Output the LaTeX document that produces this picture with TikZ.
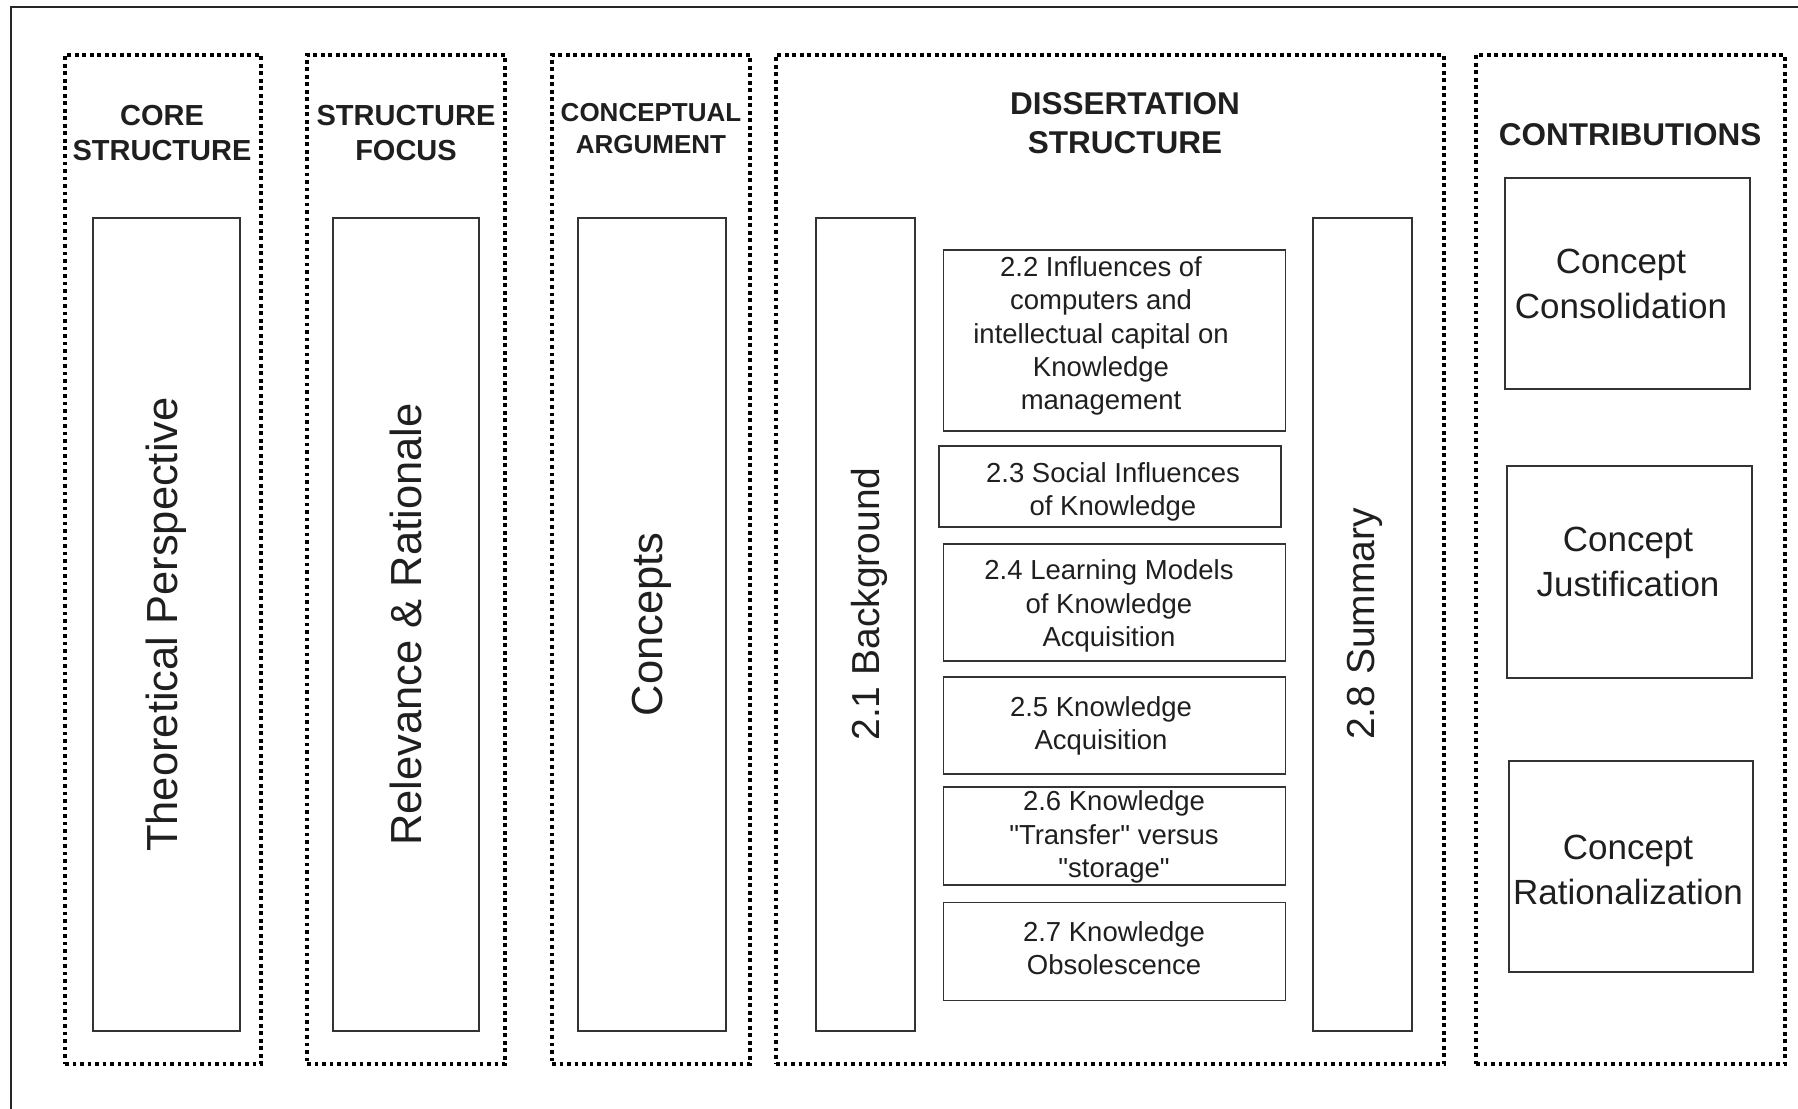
\documentclass[tikz,border=0pt]{standalone}
\usepackage{fontspec}
\setmainfont{Liberation Sans}[Ligatures=TeXOff]
\begin{document}
\begin{tikzpicture}[x=1pt,y=-1pt,
  group/.style={draw=black, line width=3.6pt, dash pattern=on 3.6pt off 3.9pt,
    minimum width=#1, inner sep=0pt, outer sep=0pt},
  box/.style={draw=black!80, line width=1.8pt, inner sep=0pt, outer sep=0pt},
  label/.style={inner sep=0pt, align=center, text=black!88},
  title/.style={label, font=\fontsize{29}{35}\selectfont\bfseries},
  bigtitle/.style={label, font=\fontsize{31.5}{39}\selectfont\bfseries},
  vert/.style={label, rotate=90, font=\fontsize{43.5}{50}\selectfont},
  vertsm/.style={label, rotate=90, font=\fontsize{39}{45}\selectfont},
  small/.style={label, font=\fontsize{27.5}{33.2}\selectfont},
  contrib/.style={label, font=\fontsize{35}{44.6}\selectfont}
]
\useasboundingbox (0,0) rectangle (1798,1108);

% page frame (runs off the right and bottom edges)
\draw[line width=1.6pt, black!85] (11,1130) -- (11,7) -- (1830,7);

% dotted column groups
\node[group=196pt, minimum height=1009pt] (g1) at (163,559.5) {};
\node[group=198pt, minimum height=1009pt] (g2) at (406,559.5) {};
\node[group=198pt, minimum height=1009pt] (g3) at (651,559.5) {};
\node[group=668pt, minimum height=1009pt] (g4) at (1110,559.5) {};
\node[group=309pt, minimum height=1009pt] (g5) at (1630.5,559.5) {};

% column headings
\node[title] (t1) at (162,133.5) {CORE\\STRUCTURE};
\node[title] (t2) at (406,133.5) {STRUCTURE\\FOCUS};
\node[title, font=\fontsize{26}{32}\selectfont\bfseries] (t3) at (651,128.5) {CONCEPTUAL\\ARGUMENT};
\node[bigtitle] (t4) at (1125,123) {DISSERTATION\\STRUCTURE};
\node[bigtitle] (t5) at (1630,135) {CONTRIBUTIONS};

% tall boxes of the first three columns
\node[box, minimum width=147pt, minimum height=813pt] (c1) at (166.5,624.5) {};
\node[box, minimum width=146pt, minimum height=813pt] (c2) at (406,624.5) {};
\node[box, minimum width=148pt, minimum height=813pt] (c3) at (652,624.5) {};
\node[vert] (c1t) at (c1.center) {Theoretical Perspective};
\node[vert] (c2t) at (c2.center) {Relevance \& Rationale};
\node[vert] (c3t) at (c3.center) {Concepts};

% dissertation structure
\node[box, minimum width=99pt, minimum height=813pt] (bg) at (865.5,624.5) {};
\node[box, minimum width=99pt, minimum height=813pt] (sm) at (1362.5,624.5) {};
\node[vertsm] (bgt) at (869,604) {2.1 Background};
\node[vertsm] (smt) at (1365,624) {2.8 Summary};

\node[box, minimum width=342pt, minimum height=181pt] (s2) at (1114.5,340.5) {};
\node[box, minimum width=342pt, minimum height=81pt] (s3) at (1110,486.5) {};
\node[box, minimum width=342pt, minimum height=117pt] (s4) at (1114.5,602.5) {};
\node[box, minimum width=342pt, minimum height=97pt] (s5) at (1114.5,725.5) {};
\node[box, minimum width=342pt, minimum height=98pt] (s6) at (1114.5,836) {};
\node[box, minimum width=342pt, minimum height=98pt] (s7) at (1114.5,951.5) {};

\node[small] (s2t) at (1101,336) {2.2 Influences of\\computers and\\intellectual capital on\\Knowledge\\management};
\node[small] (s3t) at (1113,492) {2.3 Social Influences\\of Knowledge};
\node[small] (s4t) at (1109,606) {2.4 Learning Models\\of Knowledge\\Acquisition};
\node[small] (s5t) at (1101,726) {2.5 Knowledge\\Acquisition};
\node[small] (s6t) at (1114,837) {2.6 Knowledge\\"Transfer" versus\\"storage"};
\node[small] (s7t) at (1114,948) {2.7 Knowledge\\Obsolescence};

% contributions
\node[box, minimum width=245pt, minimum height=211pt] (k1) at (1627.5,283.5) {};
\node[box, minimum width=245pt, minimum height=212pt] (k2) at (1629.5,572) {};
\node[box, minimum width=244pt, minimum height=211pt] (k3) at (1631,866.5) {};
\node[contrib] (k1t) at (1621,284) {Concept\\Consolidation};
\node[contrib] (k2t) at (1628,562) {Concept\\Justification};
\node[contrib] (k3t) at (1628,870) {Concept\\Rationalization};
\end{tikzpicture}
\end{document}
